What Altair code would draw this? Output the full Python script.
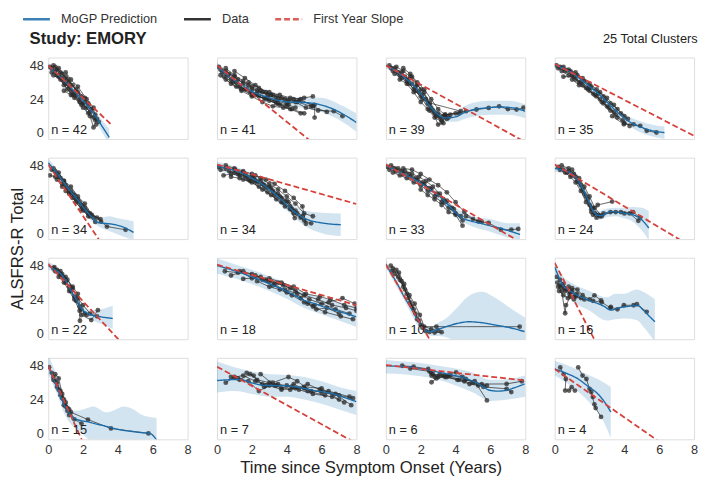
import altair as alt
import pandas as pd

N_LABELS = [42, 41, 39, 35, 34, 34, 33, 24, 22, 18, 10, 16, 15, 7, 6, 4]
SERIES = ["MoGP Prediction", "Data", "First Year Slope"]
Y_TICKS = [0, 24, 48]
X_TICKS = [0, 2, 4, 6, 8]

# MoGP mean curve per panel: (x, y)
MEAN = [
    [(0, 47.5), (0.5, 42), (1, 36), (1.5, 29.5), (2, 23), (2.5, 15.5), (3, 6.5), (3.5, -3)],
    [(0, 47.5), (0.5, 42), (1, 37.5), (1.5, 33.5), (2, 29.5), (2.5, 27), (3, 25), (3.5, 23.2), (4, 22.2), (4.6, 21.8), (5.2, 21.5), (5.8, 20.5), (6.5, 17.8), (7, 15), (7.5, 11.5), (8, 7.5)],
    [(0, 48), (0.5, 44.5), (1, 40), (1.5, 35), (2, 28), (2.5, 19.5), (3, 13), (3.5, 10.8), (4, 11.5), (4.5, 14.5), (5, 16.5), (5.7, 17.8), (6.6, 18.5), (7.3, 17.8), (8, 15.5)],
    [(0, 48), (0.5, 46), (1, 42.5), (1.5, 38), (2, 33), (2.5, 28), (3, 22), (3.5, 16), (4, 10.5), (4.5, 6.5), (5, 4), (5.5, 2), (6, 0.8), (6.3, 0.3)],
    [(0, 50), (0.4, 44), (0.8, 37.5), (1.2, 31), (1.7, 23.5), (2.1, 17), (2.5, 11.5), (2.85, 7.5), (3.2, 7), (3.6, 6.5), (4.2, 4.8), (4.9, 0.5)],
    [(0, 47.5), (0.6, 46), (1.3, 43.3), (2, 39), (2.5, 35.5), (3, 31), (3.5, 26), (4, 20), (4.3, 16.5), (4.7, 13), (5, 10.7), (5.5, 8.5), (6, 7.3), (6.5, 6.5), (7.1, 6)],
    [(0, 48), (0.6, 44.5), (1.2, 41), (1.8, 37), (2.3, 33), (2.7, 29.5), (3.1, 26), (3.5, 21), (3.85, 16.5), (4.4, 10.7), (4.9, 8.5), (5.35, 7.2), (5.9, 5.5), (6.5, 3.7), (7.1, 1.5), (7.7, -0.9)],
    [(0, 46), (0.5, 44.5), (1, 42), (1.3, 38), (1.55, 32.8), (1.75, 28), (1.95, 22.5), (2.2, 16), (2.45, 12.8), (2.7, 12.5), (3, 14.5), (3.3, 15.3), (3.7, 14.8), (4, 14.2), (4.5, 13), (4.9, 10.5), (5.4, 3.7)],
    [(0, 48), (0.4, 45), (0.8, 41), (1.1, 35), (1.35, 29.3), (1.65, 23), (1.9, 17.6), (2.2, 14.5), (2.5, 12.9), (3, 11.7), (3.7, 10.5)],
    [(0, 48), (1.27, 43.3), (2, 40), (2.77, 36.3), (3.4, 33), (3.9, 30.4), (4.5, 26.5), (5, 23.4), (5.6, 21), (6.14, 18.7), (7, 15.5), (8, 11.7)],
    [(0, 49), (0.33, 42), (0.66, 35), (1, 27), (1.4, 18.7), (1.75, 11), (2.06, 4.7), (2.3, 2), (2.53, 1.2), (3, 2.8), (3.46, 4.7), (4.1, 7), (4.78, 8.2), (5.5, 7.5), (6.27, 5.9), (7.1, 4), (7.96, 1.2)],
    [(0, 47), (0.2, 41), (0.41, 35), (0.7, 31.5), (0.97, 29.3), (1.3, 27), (1.72, 24.6), (2.1, 22.8), (2.47, 21.1), (2.85, 19), (3.22, 16.4), (3.6, 17.8), (3.97, 18.7), (4.35, 19.3), (4.72, 19.9), (5.09, 16.4), (5.4, 12.5), (5.75, 8.2)],
    [(0, 48), (0.2, 42), (0.41, 35), (0.7, 26.5), (0.97, 18.7), (1.25, 13.5), (1.54, 10.5), (1.9, 9), (2.28, 8.2), (2.65, 7), (3.03, 5.9), (3.4, 4.7), (3.78, 3.5), (4.3, 2.2), (4.9, 1.2), (5.4, 0.5), (5.84, 0), (6.05, -2), (6.22, -4.7)],
    [(0, 37.5), (0.6, 38), (1.27, 38.3), (2.02, 35.8), (2.77, 34), (3.71, 33.9), (4.64, 32.8), (5.58, 30.4), (6.52, 28.5), (7.3, 25.5), (8, 22.5)],
    [(0, 48), (0.8, 47.5), (1.59, 46.8), (2.3, 45.3), (3.09, 43.3), (3.8, 41.5), (4.4, 39.8), (4.9, 37.5), (5.34, 35.1), (5.65, 32.5), (5.9, 30.8), (6.4, 30), (6.84, 30.4), (7.4, 32.5), (7.96, 35.1)],
    [(0, 45.7), (0.7, 42.5), (1.35, 38.6), (1.9, 33.5), (2.47, 28.1), (2.85, 22.5), (3.22, 15.2)],
]

# confidence band per panel: (x, lower, upper)
BAND = [
    [(0, 45.5, 49.5), (0.5, 40, 44), (1, 34, 38), (1.5, 27.5, 31.5), (2, 20.5, 25.5), (2.5, 12.5, 18.5), (3, 2.5, 10.5), (3.5, -8, 3)],
    [(0, 45, 50), (1, 35, 40), (2, 27, 32), (3, 22.3, 27.7), (4, 19.2, 25.2), (5, 17.8, 25.2), (6, 15, 25), (7, 9.5, 20.5), (8, 1, 14)],
    [(0, 46, 50), (1, 38, 42), (2, 26, 30), (3, 10.5, 15.5), (3.5, 8, 13.5), (4, 8, 15.5), (4.5, 10, 19), (5, 11.5, 21.5), (6, 13, 23), (7, 13, 23), (8, 10.5, 20.5)],
    [(0, 46, 50), (1, 40.5, 44.5), (2, 31, 35), (3, 19.5, 24.5), (4, 7.5, 13.5), (5, 0, 8), (6, -3.5, 5), (6.3, -4, 4.6)],
    [(0, 47, 53), (1, 31.5, 37.5), (2, 15.5, 21.5), (2.5, 8.5, 14.5), (3, 4, 11), (3.5, 1.5, 12), (4, -1, 10.5), (4.9, -5, 8.5)],
    [(0, 44.5, 50.5), (1, 41, 47.5), (2, 36, 42), (3, 27.5, 34.5), (4, 16, 24), (5, 5.5, 16), (6, 0, 14.5), (7.1, -2, 14)],
    [(0, 46, 50), (1, 40, 44), (2, 33, 37.5), (3, 23.5, 29), (4, 11.5, 18), (5, 4.5, 12), (6, 1, 10), (7, -3, 7), (7.7, -4.5, 7)],
    [(0, 43.5, 48.5), (1, 39.5, 44.5), (1.5, 31, 36.5), (2, 19, 25), (2.5, 9.5, 15.5), (3, 11.5, 17.5), (3.5, 12, 18), (4, 10.5, 18), (4.5, 8, 18.5), (5, 2, 18), (5.4, -5, 15.5)],
    [(0, 45.5, 50.5), (1, 34.5, 40.5), (1.5, 23, 29), (2, 13.5, 19.5), (2.5, 9.5, 16.5), (3, 7, 17), (3.7, 3, 19.5)],
    [(0, 42.5, 53), (1, 39, 49), (2, 35, 45), (3, 30, 40.5), (4, 24.5, 35.5), (5, 18, 29), (6, 13.5, 25), (7, 9, 22), (8, 4.5, 19)],
    [(0, 46.5, 51.5), (1, 24.5, 29.5), (2, 3, 8.5), (2.5, -1.5, 4), (3, -2, 7.5), (3.5, -3, 11), (4, -6, 17), (4.7, -10, 26), (5.5, -12, 29.5), (6.3, -10, 25), (7, -8, 19), (8, -6, 11)],
    [(0, 43, 51), (0.5, 30, 40), (1, 23, 35.5), (2, 16, 30), (3, 9, 25.5), (3.5, 10, 28), (4, 10.5, 28), (4.7, 9.5, 31), (5.2, 3, 28.5), (5.75, -6, 24)],
    [(0, 42, 56), (0.5, 28, 41), (1, 12, 25), (1.5, 4, 16), (2, -1, 17), (2.6, -6, 19), (3.3, -7, 15), (3.8, -7, 16.5), (4.3, -7, 19), (4.9, -7, 17), (5.4, -7, 13), (6.22, -7, 11)],
    [(0, 29, 51), (1, 30, 47), (2, 28, 44), (3, 26, 42), (4, 26, 41.5), (5, 24, 40), (6, 21, 37), (7, 17, 33), (8, 13, 30)],
    [(0, 42.5, 52), (1, 42, 51), (2, 40.5, 50), (3, 38, 48), (4, 34, 46), (5, 29, 43), (6, 23, 38), (7, 24, 38.5), (8, 26, 41)],
    [(0, 41, 51.5), (1, 33, 47), (2, 22, 41), (2.7, 11, 37), (3.22, -3, 33)],
]

# first year slope per panel: (y at x=0, x end, y end)
SLOPE = [
    (48, 3.7, 5.1), (48, 8, -32), (48, 8, -6.4), (49, 8, -2),
    (48.7, 3.0, -6.2), (48.7, 8, 20.7), (48.7, 8, -8.3), (48.7, 7.5, -7.0),
    (49.2, 4.3, -7.9), (48.7, 8, 19.9), (48.7, 2.7, -8.3), (50, 2.45, -8.6),
    (48, 2.1, -9.4), (47.3, 8, -7.1), (48.5, 8, 37.5), (45.7, 6.3, -8.4),
]

# observed patient trajectories per panel
PATIENTS = [
    [  # n = 42
        [(0.1, 47), (0.4, 44), (0.8, 39), (1.2, 33), (1.6, 27)],
        [(0.2, 46), (0.6, 40), (1.0, 35), (1.5, 28), (2.0, 21), (2.4, 15)],
        [(0.3, 48), (0.7, 43), (1.1, 38), (1.6, 31), (2.1, 25)],
        [(0.5, 45), (0.9, 37), (1.3, 30), (1.8, 22), (2.2, 18), (2.6, 11)],
        [(0.2, 43), (0.5, 41), (0.9, 34), (1.4, 27), (1.9, 20)],
        [(0.6, 46), (1.0, 40), (1.4, 34), (1.9, 26), (2.3, 21), (2.7, 13), (2.9, 8)],
        [(0.4, 47), (0.8, 42), (1.2, 36), (1.7, 29), (2.1, 22), (2.5, 17)],
        [(0.3, 41), (0.7, 38), (1.1, 31), (1.5, 25), (2.0, 18), (2.4, 12), (2.6, 4)],
        [(1.0, 43), (1.3, 38), (1.7, 33), (2.2, 24), (2.6, 18), (2.75, 6)],
        [(0.9, 30), (1.3, 27), (1.8, 24), (2.3, 14), (2.7, 9), (2.8, 10)],
    ],
    [  # n = 41
        [(0.1, 47), (0.5, 44), (1.0, 40), (1.5, 35), (2.0, 31), (2.6, 29), (3.2, 27)],
        [(0.2, 45), (0.6, 41), (1.1, 36), (1.6, 31), (2.2, 27), (2.8, 24), (3.4, 21), (4.0, 19)],
        [(0.3, 43), (0.8, 38), (1.3, 33), (1.9, 29), (2.4, 26), (3.0, 23), (3.6, 20), (4.2, 17), (4.8, 14)],
        [(0.5, 46), (1.0, 41), (1.5, 37), (2.0, 33), (2.5, 30), (3.1, 27), (3.7, 25), (4.4, 24), (5.0, 25), (5.5, 26)],
        [(0.4, 40), (0.9, 36), (1.4, 31), (2.0, 27), (2.7, 25), (3.3, 23), (4.0, 21), (4.6, 22), (5.4, 19), (6.3, 15)],
        [(0.7, 42), (1.2, 38), (1.8, 34), (2.3, 30), (2.9, 27), (3.5, 24), (4.1, 23), (4.7, 23), (5.6, 20), (5.6, 11)],
        [(1.0, 44), (1.6, 39), (2.2, 34), (2.8, 29), (3.4, 26), (3.9, 24), (4.5, 22), (5.1, 18), (5.8, 16), (6.7, 15.5), (7.2, 12)],
        [(0.2, 41), (0.8, 35), (1.4, 30), (2.0, 26), (2.6, 22), (3.2, 19), (3.8, 18), (4.3, 17), (5.0, 14)],
        [(1.8, 36), (2.4, 32), (3.0, 29), (3.6, 27), (4.2, 25), (4.8, 24), (5.5, 19)],
        [(0.5, 38), (1.1, 33), (1.7, 31), (2.3, 28), (2.9, 25), (3.5, 21), (4.1, 20), (4.5, 18)],
    ],
    [  # n = 39
        [(0.2, 48), (0.5, 46), (0.9, 43), (1.3, 38), (1.7, 33), (2.1, 27), (2.5, 20), (3.0, 14), (3.4, 12)],
        [(0.3, 46), (0.7, 43), (1.1, 40), (1.5, 35), (1.9, 29), (2.3, 24), (2.7, 16), (3.1, 11), (3.5, 10)],
        [(0.4, 44), (0.8, 41), (1.2, 37), (1.6, 31), (2.0, 26), (2.4, 21), (2.8, 14), (3.2, 9), (3.6, 11)],
        [(0.6, 47), (1.0, 44), (1.4, 40), (1.8, 34), (2.2, 29), (2.6, 18), (3.0, 6), (3.3, 7)],
        [(0.5, 42), (0.9, 39), (1.3, 35), (1.7, 30), (2.1, 24), (2.5, 16), (2.9, 12), (3.3, 12), (3.7, 13)],
        [(1.0, 46), (1.4, 42), (1.8, 36), (2.2, 31), (2.6, 24), (3.0, 17), (3.4, 13), (4.2, 14)],
        [(0.8, 38), (1.2, 35), (1.6, 29), (2.0, 22), (2.4, 17), (2.8, 11), (3.2, 8)],
        [(1.5, 40), (2.0, 31), (2.53, 21.3), (4.3, 15.5)],
        [(3.4, 13), (4.0, 14), (4.6, 15.5), (5.2, 16.7), (5.9, 17.8), (6.5, 19), (7.0, 17), (7.5, 16.7), (7.9, 18)],
    ],
    [  # n = 35
        [(0.1, 48), (0.5, 47), (0.9, 44), (1.3, 41), (1.7, 37), (2.1, 33), (2.5, 28), (2.9, 23)],
        [(0.2, 46), (0.6, 44), (1.0, 41), (1.4, 36), (1.8, 32), (2.2, 28), (2.6, 24), (3.0, 19), (3.4, 15)],
        [(0.3, 47), (0.8, 45), (1.2, 43), (1.6, 39), (2.0, 35), (2.4, 31), (2.8, 26), (3.2, 21), (3.6, 17), (4.0, 12)],
        [(0.4, 44), (0.8, 41), (1.2, 38), (1.6, 34), (2.0, 30), (2.4, 26), (2.8, 21), (3.2, 16), (3.6, 11), (4.0, 7)],
        [(1.0, 38), (1.4, 34), (1.9, 31), (2.3, 27), (2.7, 22), (3.1, 18), (3.5, 13), (3.9, 9), (4.3, 5)],
        [(0.5, 40), (1.1, 40), (1.5, 36), (2.0, 32), (2.6, 29), (3.0, 25), (3.4, 20), (3.8, 14), (4.2, 10)],
        [(3.3, 12), (3.97, 6.2), (4.53, 6.2), (4.91, 5.1), (5.28, 1.6), (5.84, 0.4)],
    ],
    [  # n = 34
        [(0.2, 45), (0.5, 42), (0.9, 37), (1.3, 30), (1.7, 24), (2.1, 18)],
        [(0.3, 46), (0.6, 40), (1.0, 34), (1.4, 28), (1.8, 22), (2.3, 14), (2.6, 11)],
        [(0.1, 41), (0.4, 40), (0.8, 35), (1.2, 29), (1.6, 24), (2.0, 19), (2.4, 14)],
        [(0.4, 44), (0.7, 39), (1.1, 32), (1.5, 27), (1.9, 20), (2.2, 16), (2.8, 11), (3.03, 8.2), (3.37, 4.7), (4.44, 2.4)],
        [(0.6, 43), (0.9, 37), (1.3, 33), (1.7, 26), (2.1, 21), (2.5, 13), (3.0, 10)],
        [(0.5, 38), (0.8, 33), (1.2, 28), (1.6, 22), (2.0, 16), (2.3, 12)],
        [(1.0, 30), (1.4, 25), (1.9, 17), (2.4, 12), (2.7, 8)],
    ],
    [  # n = 34
        [(0.1, 47), (0.5, 46), (1.0, 45), (1.5, 43), (2.0, 40), (2.5, 37), (3.0, 33), (3.5, 28), (4.0, 23)],
        [(0.2, 45), (0.7, 44), (1.2, 42), (1.7, 40), (2.2, 37), (2.7, 34), (3.2, 30), (3.7, 25), (4.2, 19), (4.6, 14)],
        [(0.37, 41), (0.8, 42), (1.3, 41), (1.8, 38), (2.3, 36), (2.8, 32), (3.3, 27), (3.8, 22), (4.3, 17), (4.8, 11)],
        [(0.5, 48), (1.0, 46), (1.5, 44), (2.0, 42), (2.5, 39), (3.0, 35), (3.5, 31), (4.0, 26), (4.5, 21), (5.0, 14), (5.5, 12)],
        [(0.8, 40), (1.3, 39), (1.9, 37), (2.4, 33), (2.9, 29), (3.4, 24), (3.9, 19), (4.4, 14), (5.0, 9), (5.4, 7)],
        [(1.0, 43), (1.6, 41), (2.1, 39), (2.6, 35), (3.1, 32), (3.6, 26), (4.1, 22), (4.5, 16), (4.9, 12)],
        [(1.5, 38), (2.0, 36), (2.6, 31), (3.1, 27), (3.7, 22), (4.2, 17), (4.46, 10.7)],
        [(2.2, 41), (2.8, 38), (3.3, 35), (3.9, 30), (4.4, 25), (4.9, 19), (5.1, 6.7)],
    ],
    [  # n = 33
        [(0.1, 47), (0.5, 46), (0.9, 44), (1.3, 42), (1.7, 39), (2.1, 36), (2.5, 32), (2.9, 28), (3.3, 24)],
        [(0.2, 45), (0.6, 44), (1.0, 42), (1.4, 40), (1.8, 38), (2.2, 35), (2.6, 31), (3.0, 27), (3.4, 22), (3.8, 18)],
        [(0.3, 48), (0.7, 46), (1.1, 44), (1.5, 42), (1.9, 40), (2.3, 37), (2.7, 33), (3.1, 28), (3.5, 23), (3.9, 17), (4.3, 12)],
        [(0.4, 43), (0.8, 41), (1.2, 39), (1.6, 36), (2.0, 34), (2.4, 30), (2.8, 26), (3.2, 22), (3.6, 18), (4.0, 14), (4.4, 9)],
        [(1.0, 46), (1.5, 45), (2.0, 42), (2.5, 38), (3.0, 34), (3.5, 29), (4.0, 22), (4.5, 15), (5.0, 10), (5.5, 8)],
        [(2.0, 31), (2.4, 27), (2.8, 24), (3.2, 20), (3.6, 15), (4.0, 13), (4.4, 5.3)],
        [(4.6, 12), (5.3, 8.4), (5.9, 7.2), (6.6, 2.5), (7.2, 2.5), (7.6, 3)],
    ],
    [  # n = 24
        [(0.2, 47), (0.5, 45), (0.8, 44), (1.1, 42), (1.4, 36), (1.7, 28), (2.0, 20), (2.3, 14), (2.6, 12)],
        [(0.3, 45), (0.7, 43), (1.0, 41), (1.3, 37), (1.6, 31), (1.9, 24), (2.2, 18), (2.5, 13)],
        [(0.4, 48), (0.8, 46), (1.2, 40), (1.5, 34), (1.8, 26), (2.1, 15), (2.4, 11)],
        [(0.6, 43), (0.9, 40), (1.2, 36), (1.5, 30), (1.8, 22), (2.1, 17), (2.47, 20), (3.3, 22.4)],
        [(1.0, 45), (1.4, 39), (1.7, 33), (2.0, 26), (2.3, 18), (2.7, 12), (3.2, 15), (3.8, 15), (4.3, 14), (4.8, 8.8)],
        [(2.2, 13), (2.8, 14), (3.5, 15), (4.0, 14), (4.5, 15), (4.9, 11)],
    ],
    [  # n = 22
        [(0.3, 46), (0.6, 43), (0.9, 39), (1.2, 33), (1.5, 26), (1.8, 19), (2.1, 14)],
        [(0.4, 44), (0.7, 41), (1.0, 36), (1.3, 30), (1.6, 23), (1.9, 17), (2.2, 13)],
        [(0.5, 45), (0.8, 42), (1.1, 38), (1.4, 32), (1.7, 25), (2.0, 20), (2.4, 14), (2.8, 12)],
        [(0.6, 40), (0.9, 36), (1.2, 30), (1.5, 24), (1.8, 16), (1.82, 8.9)],
        [(0.35, 47), (0.7, 44), (1.0, 40), (1.4, 33), (1.7, 28), (1.91, 12.9), (2.47, 9.4), (2.85, 16.4)],
    ],
    [  # n = 18
        [(0.45, 44), (1.2, 43), (2.0, 42), (2.8, 38), (3.5, 36), (4.2, 32), (5.0, 27), (5.8, 24), (6.6, 20), (7.4, 18), (8.0, 16)],
        [(0.8, 41), (1.5, 44), (2.2, 41), (3.0, 37), (3.8, 34), (4.5, 30), (5.3, 24), (6.0, 21), (6.8, 17), (7.6, 14)],
        [(1.3, 44), (2.0, 39), (2.6, 38), (3.2, 34), (3.9, 31), (4.6, 28), (5.2, 21), (5.7, 17), (6.3, 18), (7.0, 14)],
        [(1.5, 38.6), (2.5, 40), (3.3, 35), (4.0, 29), (4.8, 25), (5.5, 19), (6.2, 15), (7.1, 12), (7.8, 10)],
        [(2.3, 37), (3.0, 33), (3.6, 31), (4.3, 27), (5.0, 22), (5.6, 20), (6.4, 22), (7.2, 25), (7.9, 21)],
        [(3.0, 39), (3.7, 36), (4.4, 33), (5.1, 28), (5.9, 26), (6.5, 24), (7.3, 20), (8.0, 18)],
    ],
    [  # n = 10
        [(0.28, 48), (0.6, 45), (0.9, 37), (1.2, 28), (1.5, 19), (1.8, 10), (2.1, 4), (2.5, 1)],
        [(0.4, 46), (0.7, 40), (1.0, 33), (1.3, 25), (1.6, 17), (1.9, 9), (2.3, 1.5), (2.8, 0.5), (3.2, 0.8)],
        [(0.5, 42), (0.8, 38), (1.1, 31), (1.4, 22), (1.7, 14), (2.0, 6), (2.6, 3), (3.0, 2)],
        [(0.35, 44), (0.75, 43), (1.05, 35), (1.35, 27), (1.65, 21), (1.95, 13), (2.2, 4.7), (2.9, 4.7), (7.68, 4.7)],
    ],
    [  # n = 16
        [(0.1, 40), (0.3, 38), (0.5, 35), (0.7, 31), (0.9, 29), (1.2, 27), (1.5, 25)],
        [(0.15, 36), (0.35, 33), (0.6, 30), (0.8, 33), (1.0, 30), (1.3, 28)],
        [(0.2, 33), (0.4, 30), (0.6, 14.2), (0.65, 20), (0.9, 26), (1.1, 24)],
        [(0.25, 30), (0.5, 27), (0.75, 25), (1.0, 32), (1.3, 31), (1.6, 27), (2.0, 24), (2.28, 26.9), (2.66, 23.4)],
        [(0.3, 34), (0.55, 32), (0.85, 28), (1.2, 26), (1.7, 24), (2.2, 23), (2.7, 22), (3.2, 18)],
        [(3.22, 18.7), (3.6, 17), (3.97, 19.9), (4.53, 19.9), (4.72, 20.6), (5.28, 15.2)],
    ],
    [  # n = 15
        [(0.05, 47), (0.3, 38), (0.5, 33), (0.7, 27), (0.9, 20), (1.1, 16)],
        [(0.2, 43), (0.4, 37), (0.6, 31), (0.8, 25), (1.0, 19), (1.2, 13)],
        [(0.3, 40), (0.5, 36), (0.7, 30), (0.9, 24), (1.1, 18), (1.3, 15), (2.28, 9.8), (3.6, 3.5), (5.75, 0)],
        [(0.4, 42), (0.6, 39), (0.8, 28), (1.0, 22), (1.2, 17), (1.5, 10), (1.91, 7)],
    ],
    [  # n = 7
        [(0.5, 36), (1.0, 40), (1.5, 41), (2.2, 37), (2.8, 34), (3.5, 35), (4.3, 33), (5.0, 32), (6.0, 29), (7.0, 27), (7.8, 25)],
        [(0.8, 40), (1.3, 38), (1.9, 42), (2.6, 35), (3.2, 36), (4.1, 40), (4.6, 37), (5.4, 30), (6.4, 30), (7.6, 26)],
        [(1.2, 39), (1.8, 37), (2.4, 30), (3.0, 34), (3.7, 31), (4.5, 32), (5.2, 35), (5.9, 31), (6.8, 28), (7.7, 20)],
        [(1.7, 43), (2.1, 41), (2.7, 33), (3.4, 34), (4.0, 34), (4.7, 31), (5.5, 28), (6.6, 26), (7.3, 22)],
        [(2.3, 38), (3.0, 36), (3.7, 32), (4.4, 35), (5.2, 30), (6.2, 27)],
        [(2.5, 42), (3.3, 34), (4.2, 31), (5.0, 33), (6.0, 32), (7.0, 24)],
    ],
    [  # n = 6
        [(0.94, 48), (1.59, 47.3), (2.43, 45.7), (2.62, 41), (3.09, 42), (3.7, 41), (4.4, 40), (5.0, 36), (5.8, 33.9)],
        [(1.4, 46), (2.5, 44), (2.8, 40), (3.3, 41), (4.03, 43.3), (4.59, 38.6), (5.5, 35), (6.93, 35.1), (7.8, 37)],
        [(2.6, 43), (3.0, 40), (3.5, 40), (4.2, 38), (5.1, 37), (5.8, 23.4)],
        [(2.62, 36.3), (2.9, 39), (3.6, 41), (4.5, 37), (5.6, 33), (6.93, 31.6), (7.2, 29.3)],
        [(2.7, 42), (3.4, 40), (4.1, 38), (4.8, 35), (5.3, 34)],
    ],
    [  # n = 4
        [(0.32, 46.8), (0.51, 42.1), (0.64, 38.6), (0.6, 30.4)],
        [(0.82, 30.4), (0.97, 32.8), (1.16, 30.4)],
        [(1.35, 46.8), (1.6, 41), (1.82, 38.6), (2.0, 31.6), (2.19, 25.8)],
        [(2.1, 29.3), (2.28, 20.6), (2.35, 18), (2.66, 11.7)],
    ],
]

rows = []
for p in range(16):
    r, c = p // 4, p % 4
    for x, lo, hi in BAND[p]:
        rows.append(dict(row=r, col=c, kind="band", x=x, lo=lo, hi=hi))
    for x, y in MEAN[p]:
        rows.append(dict(row=r, col=c, kind="mean", x=x, y=y, series=SERIES[0]))
    y0, x1, y1 = SLOPE[p]
    rows.append(dict(row=r, col=c, kind="slope", x=0, y=y0, series=SERIES[2]))
    rows.append(dict(row=r, col=c, kind="slope", x=x1, y=y1, series=SERIES[2]))
    for k, traj in enumerate(PATIENTS[p]):
        for s, (x, y) in enumerate(traj):
            rows.append(dict(row=r, col=c, kind="data", x=x, y=y, pid=f"{p}-{k}", seq=s, series=SERIES[1]))
    rows.append(dict(row=r, col=c, kind="label", text=f"n = {N_LABELS[p]}"))
df = pd.DataFrame(rows)

FONT = "Liberation Sans"
PW, PH = 142, 83
xscale = alt.Scale(domain=[0, 8], nice=False, zero=False)
yscale = alt.Scale(domain=[-4.2, 53.6], nice=False, zero=False)
xaxis = alt.Axis(values=X_TICKS, ticks=False, domain=False, grid=False, labelFontSize=13,
                 labelColor="#333", labelPadding=3, labelFlush=False, title=None, labelFont=FONT)
yaxis = alt.Axis(values=Y_TICKS, ticks=False, domain=False, grid=False, labelFontSize=13,
                 labelColor="#333", labelPadding=4, title=None, labelFont=FONT)
X = alt.X("x:Q", scale=xscale, axis=xaxis)
Y = alt.Y("y:Q", scale=yscale, axis=yaxis)
color = alt.Color(
    "series:N",
    scale=alt.Scale(domain=SERIES, range=["#1b6ca8", "#111111", "#d6403a"]),
    legend=alt.Legend(title="Study: EMORY", titleOrient="bottom", titleAnchor="start",
                      titleFontSize=17, titleFontWeight="bold", titleFont=FONT, titleColor="#222",
                      titlePadding=5, orient="none", direction="horizontal", legendX=-19, legendY=-46,
                      padding=0, symbolType="M-2.5,0L2.5,0", symbolStrokeWidth=2.5, symbolSize=120,
                      labelOffset=18, labelFontSize=13, labelFont=FONT, labelColor="#333", columnPadding=21),
)
dash = alt.StrokeDash("series:N", scale=alt.Scale(domain=SERIES, range=[[1, 0], [1, 0], [6, 3]]), legend=None)

band = alt.Chart().transform_filter(alt.datum.kind == "band").mark_area(
    color="#1f77b4", opacity=0.2, interpolate="monotone", clip=True
).encode(x=X, y=alt.Y("lo:Q", scale=yscale, axis=yaxis), y2="hi:Q")

datalines = alt.Chart().transform_filter(alt.datum.kind == "data").mark_line(
    strokeWidth=0.8, opacity=0.85, clip=True
).encode(x=X, y=Y, detail="pid:N", order="seq:Q", color=color, strokeDash=dash)

points = alt.Chart().transform_filter(alt.datum.kind == "data").mark_circle(
    size=24, color="#2a2a2a", opacity=0.75, clip=True
).encode(x=X, y=Y)

mean = alt.Chart().transform_filter(alt.datum.kind == "mean").mark_line(
    strokeWidth=1.4, interpolate="monotone", clip=True
).encode(x=X, y=Y, color=color, strokeDash=dash)

slope = alt.Chart().transform_filter(alt.datum.kind == "slope").mark_line(
    strokeWidth=1.8, clip=True
).encode(x=X, y=Y, color=color, strokeDash=dash)

label = alt.Chart().transform_filter(alt.datum.kind == "label").mark_text(
    align="left", baseline="bottom", fontSize=13, font=FONT, color="#222"
).encode(x=alt.value(3), y=alt.value(PH - 2), text="text:N")

panel = alt.layer(band, datalines, points, mean, slope, label, data=df).properties(width=PW, height=PH)

chart = panel.facet(
    row=alt.Row("row:O", header=alt.Header(labels=False, labelPadding=0, title="ALSFRS-R Total",
                                           titleOrient="left", titleFontSize=17, titleFontWeight="normal",
                                           titleFont=FONT, titleColor="#222", titlePadding=-8)),
    column=alt.Column("col:O", header=alt.Header(labels=False, labelPadding=0,
                                                 title="Time since Symptom Onset (Years)",
                                                 titleOrient="bottom", titleFontSize=17, titleFontWeight="normal",
                                                 titleFont=FONT, titleColor="#222", titlePadding=-6)),
    spacing={"row": 17, "column": 28},
).properties(
    title=alt.TitleParams("25 Total Clusters", anchor="end", fontSize=13, fontWeight="normal",
                          font=FONT, color="#222", offset=-34),
    padding={"left": 0, "top": 0, "right": 0, "bottom": 0},
).configure_view(stroke="#555", strokeWidth=1).configure(font=FONT)

chart.save("out.html", embed_options={"renderer": "svg", "actions": False})
